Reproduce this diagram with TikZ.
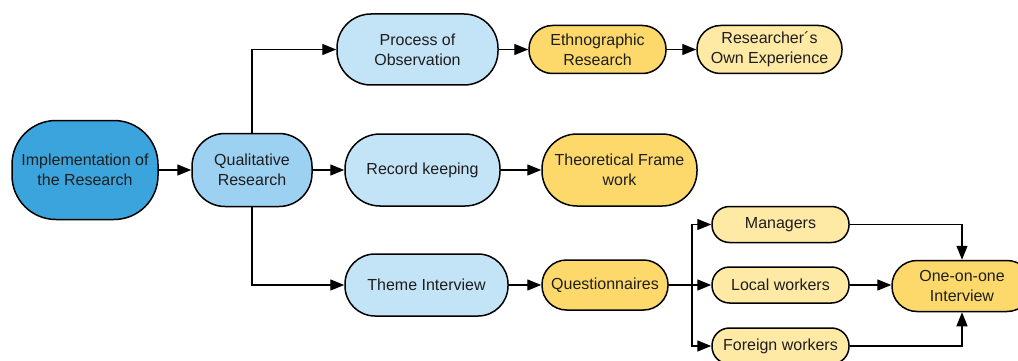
\documentclass[tikz,border=0pt]{standalone}
\usepackage{fontspec}
\setmainfont{Liberation Sans}
\usetikzlibrary{arrows.meta}
\definecolor{deepblue}{HTML}{3CA4DD}
\definecolor{midblue}{HTML}{9CD1F2}
\definecolor{paleblue}{HTML}{C3E3F6}
\definecolor{gold}{HTML}{FDD96B}
\definecolor{paleyellow}{HTML}{FEE9A5}
\definecolor{inkgray}{HTML}{1E1E1E}
\begin{document}
\begin{tikzpicture}[x=1pt,y=-1pt,
  box/.style={draw=black, line width=1.5pt, align=center, inner sep=0pt,
    font=\fontsize{16}{20}\selectfont, text=inkgray},
  link/.style={line width=1.4pt, -{Triangle[length=14pt,width=11pt]}},
  wire/.style={line width=1.4pt}]
\useasboundingbox (0,0) rectangle (1018,361);
\clip (0,0) rectangle (1018,361);

% main stem
\node[box, fill=deepblue, minimum width=146pt, minimum height=99pt, rounded corners=44pt]
  (impl) at (85,170) {Implementation of\\the Research};
\node[box, fill=midblue, minimum width=120pt, minimum height=73pt, rounded corners=33pt]
  (qual) at (252,170) {Qualitative\\Research};

% three branches
\node[box, fill=paleblue, minimum width=161pt, minimum height=71pt, rounded corners=34pt]
  (proc) at (417.5,49.5) {Process of\\Observation};
\node[box, fill=paleblue, minimum width=155pt, minimum height=72pt, rounded corners=35pt]
  (rec) at (422.5,170) {Record keeping};
\node[box, fill=paleblue, minimum width=163pt, minimum height=62pt, rounded corners=30pt]
  (theme) at (426.5,285) {Theme Interview};

% top row
\node[box, fill=gold, minimum width=137pt, minimum height=48pt, rounded corners=23.5pt]
  (eth) at (597.5,49.5) {Ethnographic\\Research};
\node[box, fill=paleyellow, minimum width=145pt, minimum height=48pt, rounded corners=23.5pt]
  (own) at (769.5,49.5) {Researcher´s\\Own Experience};

% middle row
\node[box, fill=gold, minimum width=155pt, minimum height=72pt, rounded corners=35pt]
  (theo) at (619.5,170) {Theoretical Frame\\work};

% bottom row
\node[box, fill=gold, minimum width=126pt, minimum height=50pt, rounded corners=24.5pt]
  (quest) at (605,285) {Questionnaires};
\node[box, fill=paleyellow, minimum width=137pt, minimum height=36pt, rounded corners=17.5pt]
  (mgr) at (780.5,224.5) {Managers};
\node[box, fill=paleyellow, minimum width=137pt, minimum height=36pt, rounded corners=17.5pt]
  (local) at (780.5,285) {Local workers};
\node[box, fill=paleyellow, minimum width=137pt, minimum height=36pt, rounded corners=17.5pt]
  (foreign) at (780.5,346) {Foreign workers};
\node[box, fill=gold, minimum width=140pt, minimum height=51pt, rounded corners=25pt]
  (one) at (962,286) {One-on-one\\Interview};

% connectors
\draw[link] (impl.east) -- (qual.west);
\draw[link] (qual.north) |- (proc.west);
\draw[link] (qual.east) -- (rec.west);
\draw[link] (qual.south) |- (theme.west);
\draw[link] (proc.east) -- (eth.west);
\draw[link] (eth.east) -- (own.west);
\draw[link] (rec.east) -- (theo.west);
\draw[link] (theme.east) -- (quest.west);

\coordinate (fork) at (692,285);
\draw[wire] (quest.east) -- (fork);
\draw[link] (fork) |- (mgr.west);
\draw[link] (fork) -- (local.west);
\draw[link] (fork) |- (foreign.west);

\draw[link] (mgr.east) -| (one.north);
\draw[link] (local.east) -- (local.east -| one.west);
\draw[link] (foreign.east) -| (one.south);
\end{tikzpicture}
\end{document}
